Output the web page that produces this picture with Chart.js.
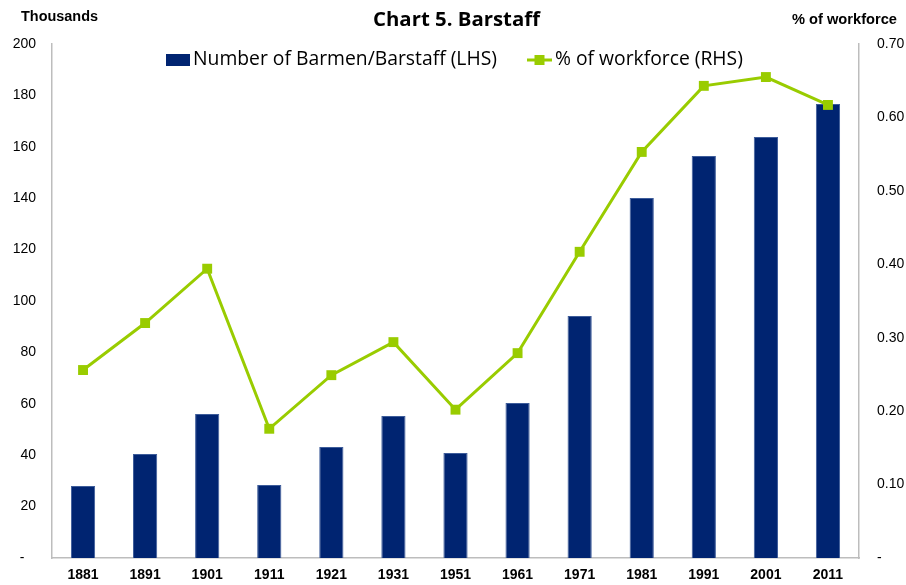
<!DOCTYPE html>
<html>
<head>
<meta charset="utf-8">
<script src="https://cdn.jsdelivr.net/npm/chart.js@4"></script>
<style>
  html, body { margin: 0; padding: 0; background: #ffffff; }
  #wrap { width: 906px; height: 585px; }
</style>
</head>
<body>
<div id="wrap"><canvas id="c" width="906" height="585"></canvas></div>
<script>
const categories = ['1881','1891','1901','1911','1921','1931','1951','1961','1971','1981','1991','2001','2011'];
const barmenThousands = [28.0, 40.5, 56.0, 28.4, 43.2, 55.3, 40.9, 60.3, 94.2, 140.1, 156.4, 163.8, 176.7];
const pctWorkforce = [0.256, 0.320, 0.394, 0.176, 0.249, 0.294, 0.202, 0.279, 0.417, 0.553, 0.643, 0.655, 0.617];
const leftTicks = [0, 20, 40, 60, 80, 100, 120, 140, 160, 180, 200];
const rightTicks = [0, 0.10, 0.20, 0.30, 0.40, 0.50, 0.60, 0.70];

const titleText = 'Chart 5. Barstaff';
const leftAxisTitle = 'Thousands';
const rightAxisTitle = '% of workforce';
const barLabel = 'Number of Barmen/Barstaff (LHS)';
const lineLabel = '% of workforce (RHS)';

const BAR_COLOR = '#002471';
const LINE_COLOR = '#99CC00';
const AXIS_COLOR = '#BDBDBD';

function fitFont(ctx, text, weight, family, targetW) {
  let size = 20;
  ctx.font = weight + ' ' + size + 'px ' + family;
  const w = ctx.measureText(text).width;
  size = size * targetW / w;
  return weight + ' ' + size.toFixed(2) + 'px ' + family;
}

const textPlugin = {
  id: 'texts',
  afterDraw(chart) {
    const ctx = chart.ctx;
    ctx.save();
    ctx.fillStyle = '#000000';
    ctx.textBaseline = 'middle';
    ctx.textAlign = 'left';
    // title
    ctx.font = fitFont(ctx, titleText, 'bold', '"Open Sans", sans-serif', 167);
    ctx.fillText(titleText, 373, 20);
    // axis titles
    ctx.font = fitFont(ctx, leftAxisTitle, 'bold', '"Liberation Sans", Arial, sans-serif', 77);
    ctx.fillText(leftAxisTitle, 21, 17.5);
    ctx.font = fitFont(ctx, rightAxisTitle, 'bold', '"Liberation Sans", Arial, sans-serif', 105);
    ctx.fillText(rightAxisTitle, 792, 20);
    // legend
    ctx.fillStyle = BAR_COLOR;
    ctx.fillRect(166, 54, 24, 12);
    ctx.strokeStyle = LINE_COLOR;
    ctx.lineWidth = 3;
    ctx.beginPath();
    ctx.moveTo(527, 60);
    ctx.lineTo(552, 60);
    ctx.stroke();
    ctx.fillStyle = LINE_COLOR;
    ctx.fillRect(534.5, 55, 10, 10);
    ctx.fillStyle = '#000000';
    ctx.font = fitFont(ctx, barLabel, 'normal', '"Open Sans", sans-serif', 304);
    ctx.fillText(barLabel, 193, 59);
    ctx.font = fitFont(ctx, lineLabel, 'normal', '"Open Sans", sans-serif', 188);
    ctx.fillText(lineLabel, 555, 59);
    ctx.restore();
  }
};

new Chart(document.getElementById('c'), {
  data: {
    labels: categories,
    datasets: [
      {
        type: 'line',
        label: lineLabel,
        data: pctWorkforce,
        yAxisID: 'yR',
        borderColor: LINE_COLOR,
        backgroundColor: LINE_COLOR,
        borderWidth: 3,
        pointStyle: 'rect',
        pointRadius: 7,
        pointBorderWidth: 0,
        pointBackgroundColor: LINE_COLOR,
        tension: 0,
        order: 0
      },
      {
        type: 'bar',
        label: barLabel,
        data: barmenThousands,
        yAxisID: 'yL',
        backgroundColor: BAR_COLOR,
        borderColor: '#3D5C9A',
        borderWidth: 1,
        categoryPercentage: 1.0,
        barPercentage: 0.39,
        order: 1
      }
    ]
  },
  options: {
    responsive: false,
    animation: false,
    devicePixelRatio: 1,
    layout: { padding: { top: 44, left: 0, right: 0, bottom: 0 } },
    plugins: {
      legend: { display: false },
      title: { display: false },
      tooltip: { enabled: false }
    },
    scales: {
      x: {
        grid: { display: false, drawTicks: false },
        border: { display: true, color: AXIS_COLOR, width: 1.5 },
        ticks: {
          color: '#000000',
          font: { family: '"Liberation Sans", Arial, sans-serif', size: 14, weight: 'bold' },
          padding: 9,
          maxRotation: 0,
          autoSkip: false
        },
        afterFit(s) { s.height = 27; }
      },
      yL: {
        position: 'left',
        min: 0,
        max: 200,
        grid: { display: false, drawTicks: false },
        border: { display: true, color: AXIS_COLOR, width: 1.5 },
        afterBuildTicks(s) { s.ticks = leftTicks.map(v => ({ value: v })); },
        ticks: {
          color: '#000000',
          font: { family: '"Liberation Sans", Arial, sans-serif', size: 14 },
          padding: 16,
          callback: v => v === 0 ? '-   ' : String(v)
        },
        afterFit(s) { s.width = 52; }
      },
      yR: {
        position: 'right',
        min: 0,
        max: 0.70,
        grid: { display: false, drawTicks: false },
        border: { display: true, color: AXIS_COLOR, width: 1.5 },
        afterBuildTicks(s) { s.ticks = rightTicks.map(v => ({ value: v })); },
        ticks: {
          color: '#000000',
          font: { family: '"Liberation Sans", Arial, sans-serif', size: 14 },
          padding: 18,
          callback: v => v === 0 ? '-' : Number(v).toFixed(2)
        },
        afterFit(s) { s.width = 47; }
      }
    }
  },
  plugins: [textPlugin]
});
</script>
</body>
</html>
